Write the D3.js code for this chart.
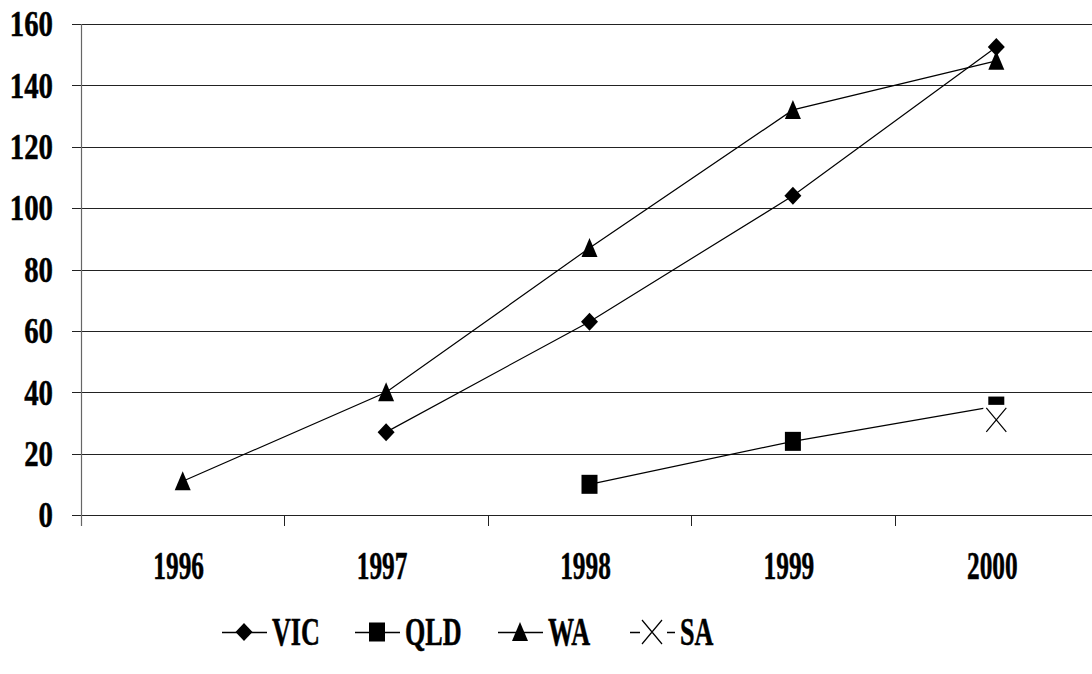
<!DOCTYPE html>
<html>
<head>
<meta charset="utf-8">
<script src="https://cdn.jsdelivr.net/npm/d3@7"></script>
<style>
  html, body { margin: 0; padding: 0; background: #fff; }
  svg { display: block; }
</style>
</head>
<body>
<script>

// Chart data
const years = ["1996", "1997", "1998", "1999", "2000"];
const vic = [null, 27, 63, 104, 152.5];
const qld = [null, null, 10, 24, 35.5];
const wa  = [11, 40, 87, 132, 148];
const sa  = [null, null, null, null, 31];
const yTicks = [0, 20, 40, 60, 80, 100, 120, 140, 160];
const seriesNames = ["VIC", "QLD", "WA", "SA"];

const width = 1092;
const height = 674;
const marginLeft = 81;
const plotRight = 1098;
const plotTop = 24;
const plotBottom = 515;
const serif = "Liberation Serif, DejaVu Serif, serif";

const svg = d3.create("svg")
    .attr("width", width)
    .attr("height", height)
    .attr("viewBox", [0, 0, width, height]);

// Scales
const x = d3.scaleBand(years, [marginLeft, plotRight]).padding(0);
const cx = d => x(d) + x.bandwidth() / 2;
const y = d3.scaleLinear([0, 160], [plotBottom, plotTop]);

// Bold condensed serif text helper
function label(sel, size) {
    return sel.attr("font-family", serif)
        .attr("font-weight", "bold")
        .attr("font-size", size)
        .attr("fill", "#000")
        .attr("stroke", "#000")
        .attr("stroke-width", 0.5);
}

// Horizontal grid lines
svg.append("g")
    .selectAll("line")
    .data(yTicks)
    .join("line")
    .attr("x1", marginLeft - 9)
    .attr("x2", plotRight)
    .attr("y1", d => Math.round(y(d)) + 0.5)
    .attr("y2", d => Math.round(y(d)) + 0.5)
    .attr("stroke", "#222")
    .attr("stroke-width", 1);

// Y axis line
svg.append("line")
    .attr("x1", marginLeft + 0.5).attr("x2", marginLeft + 0.5)
    .attr("y1", plotTop).attr("y2", plotBottom + 11)
    .attr("stroke", "#666")
    .attr("stroke-width", 1.2);

// X tick marks at category boundaries
svg.append("g")
    .selectAll("line")
    .data(years.slice(1))
    .join("line")
    .attr("x1", d => Math.round(x(d)) + 0.5)
    .attr("x2", d => Math.round(x(d)) + 0.5)
    .attr("y1", plotBottom)
    .attr("y2", plotBottom + 11)
    .attr("stroke", "#222");

// Y tick labels
svg.append("g")
    .selectAll("text")
    .data(yTicks)
    .join("text")
    .attr("transform", d => `translate(53,${y(d)}) scale(0.8,1)`)
    .attr("dy", "0.34em")
    .attr("text-anchor", "end")
    .call(label, 36)
    .text(d => d);

// X tick labels
svg.append("g")
    .selectAll("text")
    .data(years)
    .join("text")
    .attr("transform", d => `translate(${cx(d) - 4},579) scale(0.65,1)`)
    .attr("text-anchor", "middle")
    .call(label, 39)
    .text(d => d);

// Marker shapes
function diamond(g, px, py) {
    g.append("path")
        .attr("d", `M${px},${py - 9}L${px + 8.5},${py}L${px},${py + 9}L${px - 8.5},${py}Z`)
        .attr("fill", "#000");
}
function square(g, px, py) {
    g.append("rect")
        .attr("x", px - 8).attr("y", py - 9.5)
        .attr("width", 16).attr("height", 19)
        .attr("fill", "#000");
}
function triangle(g, px, py) {
    g.append("path")
        .attr("d", `M${px},${py - 10}L${px + 8},${py + 9}L${px - 8},${py + 9}Z`)
        .attr("fill", "#000");
}
function cross(g, px, py, bg) {
    if (bg) {
        g.append("rect")
            .attr("x", px - 13).attr("y", py - 15)
            .attr("width", 26).attr("height", 30)
            .attr("fill", "#fff");
    }
    g.append("path")
        .attr("d", `M${px - 10},${py - 12}L${px + 10},${py + 12}M${px + 10},${py - 12}L${px - 10},${py + 12}`)
        .attr("stroke", "#000")
        .attr("stroke-width", 1.2)
        .attr("fill", "none");
}

const seriesList = [
    { values: vic, marker: diamond, dash: null },
    { values: qld, marker: square, dash: null },
    { values: wa,  marker: triangle, dash: null },
    { values: sa,  marker: cross, dash: "10,27" }
];

const line = d3.line()
    .defined(d => d.v != null)
    .x(d => cx(d.year))
    .y(d => y(d.v));

seriesList.forEach(s => {
    const pts = years.map((yr, i) => ({ year: yr, v: s.values[i] }));
    const g = svg.append("g");
    g.append("path")
        .attr("d", line(pts))
        .attr("fill", "none")
        .attr("stroke", "#000")
        .attr("stroke-width", 1.2)
        .attr("stroke-dasharray", s.dash);
    pts.filter(p => p.v != null).forEach(p => s.marker(g, cx(p.year), y(p.v), true));
});

// Legend
const legendX = [222, 355, 498, 630];
const legendY = 632;
const legend = svg.append("g");
seriesList.forEach((s, i) => {
    const lx = legendX[i];
    const g = legend.append("g");
    g.append("line")
        .attr("x1", lx).attr("x2", lx + 45)
        .attr("y1", legendY + 0.5).attr("y2", legendY + 0.5)
        .attr("stroke", "#000")
        .attr("stroke-width", 1.3)
        .attr("stroke-dasharray", s.dash);
    s.marker(g, lx + 22, legendY, false);
    g.append("text")
        .attr("transform", `translate(${lx + 50},645) scale(0.67,1)`)
        .call(label, 39)
        .text(seriesNames[i]);
});

document.body.appendChild(svg.node());
</script>
</body>
</html>
